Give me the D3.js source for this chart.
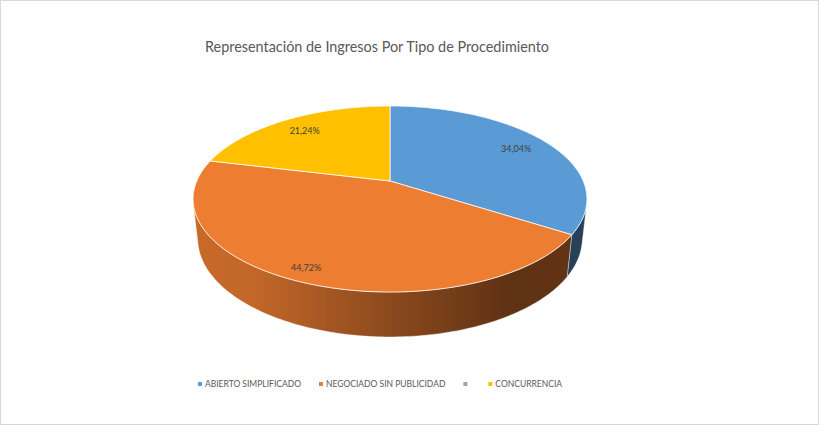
<!DOCTYPE html>
<html>
<head>
<meta charset="utf-8">
<script src="https://cdn.jsdelivr.net/npm/d3@7"></script>
<style>
  html, body { margin: 0; padding: 0; background: #ffffff; }
  svg { display: block; }
</style>
</head>
<body>
<div id="chart"></div>
<script>
// Chart data
const categories = ["ABIERTO SIMPLIFICADO", "NEGOCIADO SIN PUBLICIDAD", "", "CONCURRENCIA"];
const values = [34.04, 44.72, 0, 21.24];
const colors = ["#5b9bd5", "#ed7d31", "#a5a5a5", "#ffc000"];
const chartTitle = "Representación de Ingresos Por Tipo de Procedimiento";

const width = 819;
const height = 425;

// 3D view of the pie (perspective camera looking down on the disk)
const cx = 390, cy = 181;
const tilt = 27.6 * Math.PI / 180;
const camDist = 4.58;        // in pie radii
const focal = 885;
const thickness = 0.233;     // in pie radii

function project(x, y, z) {
  const up = y * Math.cos(tilt) - z * Math.sin(tilt);
  const depth = camDist - (y * Math.sin(tilt) + z * Math.cos(tilt));
  return [cx + focal * x / depth, cy - focal * up / depth];
}
function rim(theta, rho, y) {
  return project(rho * Math.sin(theta), y, -rho * Math.cos(theta));
}

const svg = d3.select("#chart").append("svg")
  .attr("width", width)
  .attr("height", height);

svg.append("rect")
  .attr("x", 0.5).attr("y", 0.5)
  .attr("width", width - 1).attr("height", height - 1)
  .attr("fill", "#ffffff")
  .attr("stroke", "#d9d9d9");

// Title
svg.append("text")
  .attr("x", 377)
  .attr("y", 52)
  .attr("text-anchor", "middle")
  .attr("font-family", "Lato, 'Open Sans', sans-serif")
  .attr("font-size", "14.4px")
  .attr("fill", "#595959")
  .text(chartTitle);

const pie = d3.pie().sort(null).value(d => d)(values);

// gradients for the side walls (lit from the left)
const defs = svg.append("defs");
colors.forEach((c, i) => {
  const g = defs.append("linearGradient")
    .attr("id", "wall" + i)
    .attr("gradientUnits", "userSpaceOnUse")
    .attr("x1", 195).attr("x2", 587).attr("y1", 0).attr("y2", 0);
  const base = d3.color(c);
  g.append("stop").attr("offset", "0%").attr("stop-color", base.darker(0.5));
  g.append("stop").attr("offset", "15%").attr("stop-color", base.darker(0.55));
  g.append("stop").attr("offset", "50%").attr("stop-color", base.darker(1.5));
  g.append("stop").attr("offset", "80%").attr("stop-color", base.darker(2.55));
  g.append("stop").attr("offset", "100%").attr("stop-color", base.darker(2.45));
});

const line = d3.line();
const step = Math.PI / 180;

// visible part of the outer wall
const visFrom = Math.acos(-1 / (camDist * Math.cos(tilt)));
const visTo = 2 * Math.PI - visFrom;

function arcPts(a0, a1, rho, y) {
  const n = Math.max(2, Math.ceil((a1 - a0) / step));
  return d3.range(n + 1).map(i => rim(a0 + (a1 - a0) * i / n, rho, y));
}

// walls
pie.forEach((d, i) => {
  const a0 = Math.max(d.startAngle, visFrom);
  const a1 = Math.min(d.endAngle, visTo);
  if (a1 <= a0) return;
  const top = arcPts(a0, a1, 1, 0);
  const bottom = arcPts(a0, a1, 1, -thickness).reverse();
  svg.append("path")
    .attr("d", line(top.concat(bottom)) + "Z")
    .attr("fill", `url(#wall${i})`)
    .attr("stroke", "#ffffff")
    .attr("stroke-opacity", 0.6)
    .attr("stroke-width", 0.6);
});

// top faces
pie.forEach((d, i) => {
  if (d.endAngle - d.startAngle <= 0) return;
  const pts = [project(0, 0, 0)].concat(arcPts(d.startAngle, d.endAngle, 1, 0));
  svg.append("path")
    .attr("d", line(pts) + "Z")
    .attr("fill", colors[i])
    .attr("stroke", "#ffffff")
    .attr("stroke-width", 0.75)
    .attr("stroke-linejoin", "round");
});

// data labels
const pct = d3.formatLocale({ decimal: ",", thousands: ".", grouping: [3], currency: ["", ""] }).format(".2f");
pie.forEach((d, i) => {
  if (d.value <= 0) return;
  const mid = (d.startAngle + d.endAngle) / 2;
  const rho = 0.8 + 0.1 * Math.max(0, -Math.cos(mid));
  const [x, y] = rim(mid, rho, 0);
  svg.append("text")
    .attr("x", x - 4 * Math.max(0, -Math.cos(mid)))
    .attr("y", y + 3)
    .attr("text-anchor", "middle")
    .attr("font-family", "Lato, 'Open Sans', sans-serif")
    .attr("font-size", "9px")
    .attr("fill", "#404040")
    .text(pct(d.value) + "%");
});

// legend
const legend = svg.append("g");
let lx = 0;
categories.forEach((c, i) => {
  const g = legend.append("g");
  g.append("rect")
    .attr("x", 0).attr("y", -5)
    .attr("width", 4).attr("height", 4)
    .attr("fill", colors[i]);
  const t = g.append("text")
    .attr("x", 7).attr("y", 0)
    .attr("font-family", "Lato, 'Open Sans', sans-serif")
    .attr("font-size", "8.5px")
    .attr("fill", "#595959")
    .text(c);
  const w = 7 + (c ? t.node().getComputedTextLength() : 0);
  g.attr("transform", `translate(${lx},0)`);
  lx += w + 18;
});
const legendW = lx - 18;
legend.attr("transform", `translate(${380 - legendW / 2},387)`);
</script>
</body>
</html>
